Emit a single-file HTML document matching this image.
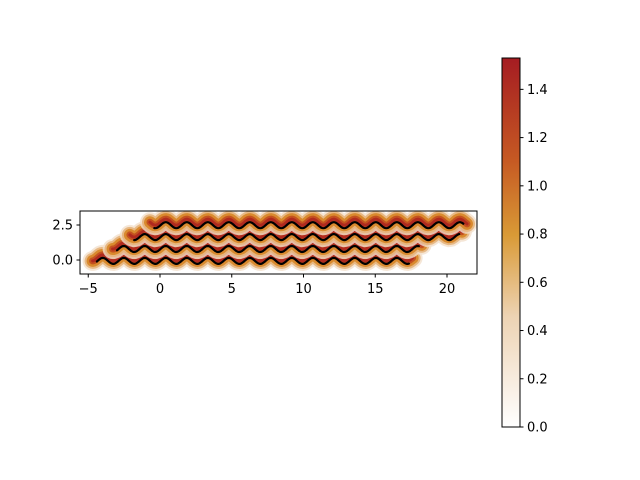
<!DOCTYPE html>
<html><head><meta charset="utf-8"><style>
body{margin:0;background:#fff}
svg{display:block;font-family:"DejaVu Sans","Liberation Sans",sans-serif}
</style></head><body>
<svg id="chart" width="640" height="480">
<defs>
<linearGradient id="cbar" x1="0" y1="1" x2="0" y2="0">
<stop offset="0" stop-color="#ffffff"/>
<stop offset="0.3" stop-color="#edd3b3"/>
<stop offset="0.52" stop-color="#d99a36"/>
<stop offset="0.72" stop-color="#c65a23"/>
<stop offset="1" stop-color="#a51c22"/>
</linearGradient>
<clipPath id="clip"><rect x="80" y="211" width="397" height="63"/></clipPath>
</defs>
<g id="plot" clip-path="url(#clip)"></g>
<rect x="80" y="211" width="397" height="63" fill="none" stroke="#000" stroke-width="1"/>
<g id="axes"></g>
<rect x="502" y="58" width="18" height="369" fill="url(#cbar)" stroke="#000" stroke-width="1"/>
<g id="cbticks"></g>
</svg>
<script>
const bandStartX=[-4.7,-3.3,-2.1,-0.7];
const bandEndX=[17.6,18.3,21.1,21.4];
const bandY=[0.15,1.0,1.85,2.7];
const xTicks=[-5,0,5,10,15,20];
const xTickLabels=["\u22125","0","5","10","15","20"];
const yTicks=[0.0,2.5];
const yTickLabels=["0.0","2.5"];
const cbTicks=[0,0.2,0.4,0.6,0.8,1.0,1.2,1.4];
const cbLabels=["0.0","0.2","0.4","0.6","0.8","1.0","1.2","1.4"];
const cbMax=1.53;

const NS="http://www.w3.org/2000/svg";
const X=v=>160+(v)*14.35;
const Y=v=>260-v*14;
const CB=v=>427-v/cbMax*369;
function el(t,a,p){const e=document.createElementNS(NS,t);for(const k in a)e.setAttribute(k,a[k]);p.appendChild(e);return e;}
function wave(x0,x1,y,off){let d="";for(let px=X(x0);px<=X(x1);px+=1){const py=Y(y)+off+3*Math.sin((px-150)/21*2*Math.PI);d+=(d?"L":"M")+px.toFixed(1)+","+py.toFixed(1);}return d;}
const plot=document.getElementById('plot');
const layers=[[20,"#f2e0cc",0.8],[16,"#e6b47c",0.9],[12,"#d98a2e",1],[7,"#c4511f",1],[3,"#b02a1f",1]];
bandY.forEach((y,i)=>{
 const g=el('g',{},plot);
 
 
 layers.forEach(l=>el('path',{d:wave(bandStartX[i],bandEndX[i],y,0),fill:"none",stroke:l[1],"stroke-width":l[0],"stroke-opacity":l[2],"stroke-linecap":"round"},g));
});
bandY.forEach((y,i)=>{
 const b=el('path',{d:wave(bandStartX[i]+0.3,bandEndX[i]-0.2,y,3),fill:"none",stroke:"#000","stroke-width":2.2,"stroke-linecap":"round"},plot);
 
 
});
const ax=document.getElementById('axes');
xTicks.forEach((t,i)=>{
 el('line',{x1:X(t),x2:X(t),y1:274,y2:277.5,stroke:"#000"},ax);
 const tx=el('text',{x:X(t),y:293,"font-size":13,"text-anchor":"middle"},ax);tx.textContent=xTickLabels[i];
 
 
});
yTicks.forEach((t,i)=>{
 el('line',{x1:76.5,x2:80,y1:Y(t),y2:Y(t),stroke:"#000"},ax);
 const tx=el('text',{x:73,y:Y(t)+4.5,"font-size":13,"text-anchor":"end"},ax);tx.textContent=yTickLabels[i];
 
 
});
const cb=document.getElementById('cbticks');
cbTicks.forEach((t,i)=>{
 el('line',{x1:520,x2:523.5,y1:CB(t),y2:CB(t),stroke:"#000"},cb);
 const tx=el('text',{x:527,y:CB(t)+4.5,"font-size":13},cb);tx.textContent=cbLabels[i];
 
 
});
</script>
</body></html>
